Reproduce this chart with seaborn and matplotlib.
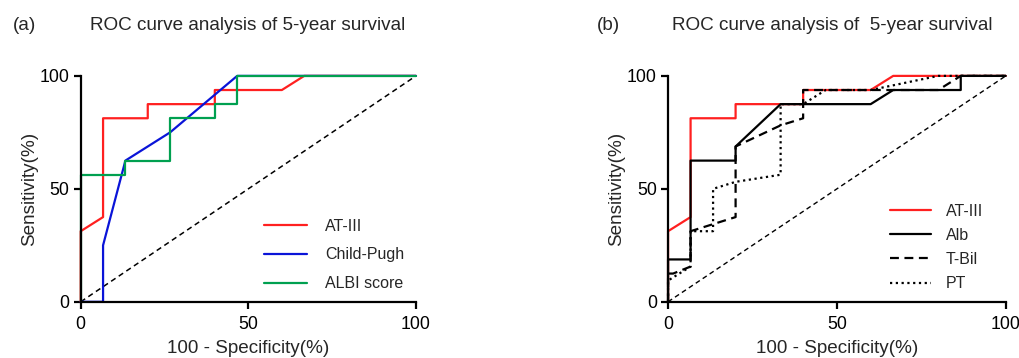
import numpy as np
import pandas as pd
import matplotlib
matplotlib.use("Agg")
import matplotlib.pyplot as plt
import seaborn as sns

sns.set_style("ticks")
plt.rcParams['font.family'] = ['Liberation Sans', 'DejaVu Sans']

# ---- data ----
at3_x = [0, 0, 6.67, 6.67, 20, 20, 40, 40, 60, 66.67, 100]
at3_y = [0, 31.25, 37.5, 81.25, 81.25, 87.5, 87.5, 93.75, 93.75, 100, 100]

cp_x = [0, 6.67, 6.67, 13.33, 26.67, 46.67, 100]
cp_y = [0, 0, 25, 62.5, 75, 100, 100]

albi_x = [0, 0, 13.33, 13.33, 26.67, 26.67, 40, 40, 46.67, 46.67, 100]
albi_y = [0, 56.25, 56.25, 62.5, 62.5, 81.25, 81.25, 87.5, 87.5, 100, 100]

alb_x = [0, 0, 6.67, 6.67, 20, 20, 33.33, 60, 66.67, 86.67, 86.67, 100]
alb_y = [0, 18.75, 18.75, 62.5, 62.5, 68.75, 87.5, 87.5, 93.75, 93.75, 100, 100]

tbil_x = [0, 0, 1.5, 4, 6.67, 6.67, 20, 20, 33.33, 40, 40, 80, 86.67, 100]
tbil_y = [0, 12.5, 12.5, 14, 15.6, 31.25, 37.5, 68.75, 78.1, 81.25, 93.75, 93.75, 100, 100]

pt_x = [0, 0, 6.67, 6.67, 13.33, 13.33, 20, 33.33, 33.33, 40, 46.67, 60, 80, 100]
pt_y = [0, 9.4, 15.6, 31.25, 31.25, 50, 53.1, 56.25, 87.5, 87.5, 93.75, 93.75, 100, 100]

ref_x = [0, 100]
ref_y = [0, 100]

ticks = [0, 50, 100]
xlabel = "100 - Specificity(%)"
ylabel = "Sensitivity(%)"
title_a = "ROC curve analysis of 5-year survival"
title_b = "ROC curve analysis of  5-year survival"


def frame(name, xs, ys):
    return pd.DataFrame({"x": xs, "y": ys, "curve": name})


fig = plt.figure(figsize=(10.19, 3.58), dpi=100)
ax_a = fig.add_axes([0.0792, 0.157, 0.329, 0.631])
ax_b = fig.add_axes([0.6556, 0.157, 0.3314, 0.631])

lw = 1.6

def style(ax):
    ax.set_xlim(0, 100)
    ax.set_ylim(0, 100)
    ax.set_xticks(ticks)
    ax.set_yticks(ticks)
    ax.margins(0)
    for s in ["top", "right"]:
        ax.spines[s].set_visible(False)
    for s in ["left", "bottom"]:
        ax.spines[s].set_linewidth(1.6)
        ax.spines[s].set_color("black")
    ax.tick_params(axis="both", direction="out", length=5, width=1.6,
                   labelsize=12.8, colors="black", pad=3)
    ax.tick_params(axis="x", pad=5)
    ax.set_xlabel(xlabel, fontsize=13.6, labelpad=5)
    ax.set_ylabel(ylabel, fontsize=13.6, labelpad=1.5)

# ---- panel a ----
sns.lineplot(data=frame("ref", ref_x, ref_y), x="x", y="y", ax=ax_a, sort=False,
             estimator=None, color="black", lw=1.1, linestyle=(0, (3.5, 2.5)),
             legend=False)
for name, xs, ys, col in [("AT-III", at3_x, at3_y, "#ff2020"),
                          ("Child-Pugh", cp_x, cp_y, "#0a14d8"),
                          ("ALBI score", albi_x, albi_y, "#00a050")]:
    sns.lineplot(data=frame(name, xs, ys), x="x", y="y", ax=ax_a, sort=False,
                 estimator=None, color=col, lw=lw, label=name)
style(ax_a)
for l in ax_a.lines:
    l.set_clip_on(False)
ax_a.legend(loc="upper left", bbox_to_anchor=(0.547, 0.368), frameon=False,
            fontsize=11.5, handlelength=2.7, handletextpad=1.1,
            labelspacing=0.86, borderpad=0, borderaxespad=0)

# ---- panel b ----
sns.lineplot(data=frame("ref", ref_x, ref_y), x="x", y="y", ax=ax_b, sort=False,
             estimator=None, color="black", lw=1.0, linestyle=(0, (3.5, 2.5)),
             legend=False)
for name, xs, ys, col, ls in [("AT-III", at3_x, at3_y, "#ff2020", "-"),
                              ("Alb", alb_x, alb_y, "black", "-"),
                              ("T-Bil", tbil_x, tbil_y, "black", (0, (4, 2.5))),
                              ("PT", pt_x, pt_y, "black", (0, (1, 1.6)))]:
    sns.lineplot(data=frame(name, xs, ys), x="x", y="y", ax=ax_b, sort=False,
                 estimator=None, color=col, lw=lw, linestyle=ls, label=name)
style(ax_b)
for l in ax_b.lines:
    l.set_clip_on(False)
ax_b.legend(loc="upper left", bbox_to_anchor=(0.657, 0.435), frameon=False,
            fontsize=11.5, handlelength=2.6, handletextpad=0.9,
            labelspacing=0.58, borderpad=0, borderaxespad=0)

# ---- titles ----
fig.text(13 / 1019, 1 - 25 / 358, "(a)", fontsize=13.6, va="center", ha="left")
fig.text(248 / 1019, 1 - 25 / 358, title_a, fontsize=13.6, va="center", ha="center")
fig.text(597 / 1019, 1 - 25 / 358, "(b)", fontsize=13.6, va="center", ha="left")
fig.text(832 / 1019, 1 - 25 / 358, title_b, fontsize=13.6, va="center", ha="center")

fig.savefig("out.png", dpi=100)
